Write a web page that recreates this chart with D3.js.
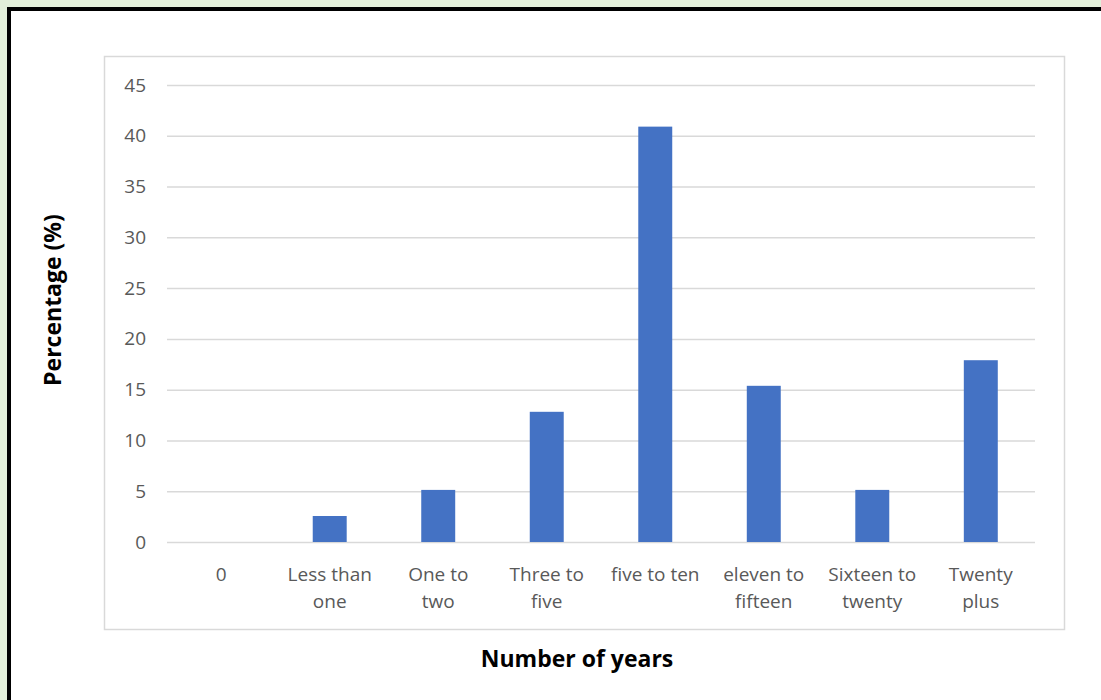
<!DOCTYPE html>
<html>
<head>
<meta charset="utf-8">
<script src="https://cdn.jsdelivr.net/npm/d3@7"></script>
<style>
  html, body { margin: 0; padding: 0; background: #e2efda; }
  svg { display: block; }
  text { font-family: "Open Sans", "Noto Sans", sans-serif; }
</style>
</head>
<body>
<svg id="chart" width="1101" height="700"></svg>
<script>
// Years of experience categories (two-line labels) and the share of respondents
const categories = ["0", "Less than one", "One to two", "Three to five", "five to ten", "eleven to fifteen", "Sixteen to twenty", "Twenty plus"];
const labelLines = [["0"], ["Less than", "one"], ["One to", "two"], ["Three to", "five"], ["five to ten"], ["eleven to", "fifteen"], ["Sixteen to", "twenty"], ["Twenty", "plus"]];
const percentages = [0, 2.56, 5.13, 12.82, 40.9, 15.38, 5.13, 17.9];
const yTicks = [0, 5, 10, 15, 20, 25, 30, 35, 40, 45];

const svg = d3.select("#chart");

// framed white panel
svg.append("rect").attr("x", 9).attr("y", 9).attr("width", 1200).attr("height", 800)
  .attr("fill", "#fff").attr("stroke", "#000").attr("stroke-width", 4);

// chart area outline
svg.append("rect").attr("x", 104.5).attr("y", 56.5).attr("width", 960).attr("height", 573)
  .attr("fill", "none").attr("stroke", "#d9d9d9").attr("stroke-width", 1.5);

const plot = { left: 167, right: 1035, top: 85, bottom: 542 };

const x = d3.scaleBand().domain(categories).range([plot.left, plot.right]).paddingInner(0.687).paddingOuter(0.343);
const y = d3.scaleLinear().domain([0, 45]).range([plot.bottom, plot.top]);

// horizontal gridlines + y tick labels via axis
const yAxis = d3.axisLeft(y).tickValues(yTicks).tickSize(-(plot.right - plot.left)).tickPadding(21);
const gy = svg.append("g").attr("transform", `translate(${plot.left},0)`).call(yAxis);
gy.select(".domain").remove();
gy.selectAll(".tick line").attr("stroke", "#d9d9d9").attr("stroke-width", 1.5);
gy.selectAll(".tick text").attr("fill", "#595959").attr("font-size", 19).attr("font-family", "'Open Sans', sans-serif");

// bars
svg.append("g").selectAll("rect").data(percentages).join("rect")
  .attr("x", (d, i) => x(categories[i]))
  .attr("width", x.bandwidth())
  .attr("y", d => y(d))
  .attr("height", d => y(0) - y(d))
  .attr("fill", "#4472c4");

// category labels, centred under each band
const bandScale = d3.scaleBand().domain(categories).range([plot.left, plot.right]);
const gx = svg.append("g");
categories.forEach((c, i) => {
  const cx = bandScale(c) + bandScale.bandwidth() / 2;
  const t = gx.append("text")
    .attr("x", cx)
    .attr("y", 581)
    .attr("text-anchor", "middle")
    .attr("fill", "#595959")
    .attr("font-size", 19);
  labelLines[i].forEach((line, j) => {
    t.append("tspan").attr("x", cx).attr("dy", j === 0 ? 0 : 27).text(line);
  });
});

// axis titles
svg.append("text").attr("x", 577).attr("y", 667).attr("text-anchor", "middle")
  .attr("font-size", 23).attr("font-weight", "bold").attr("fill", "#000").text("Number of years");
svg.append("text").attr("transform", "translate(61,300) rotate(-90)").attr("text-anchor", "middle")
  .attr("font-size", 23).attr("font-weight", "bold").attr("fill", "#000").text("Percentage (%)");
</script>
</body>
</html>
